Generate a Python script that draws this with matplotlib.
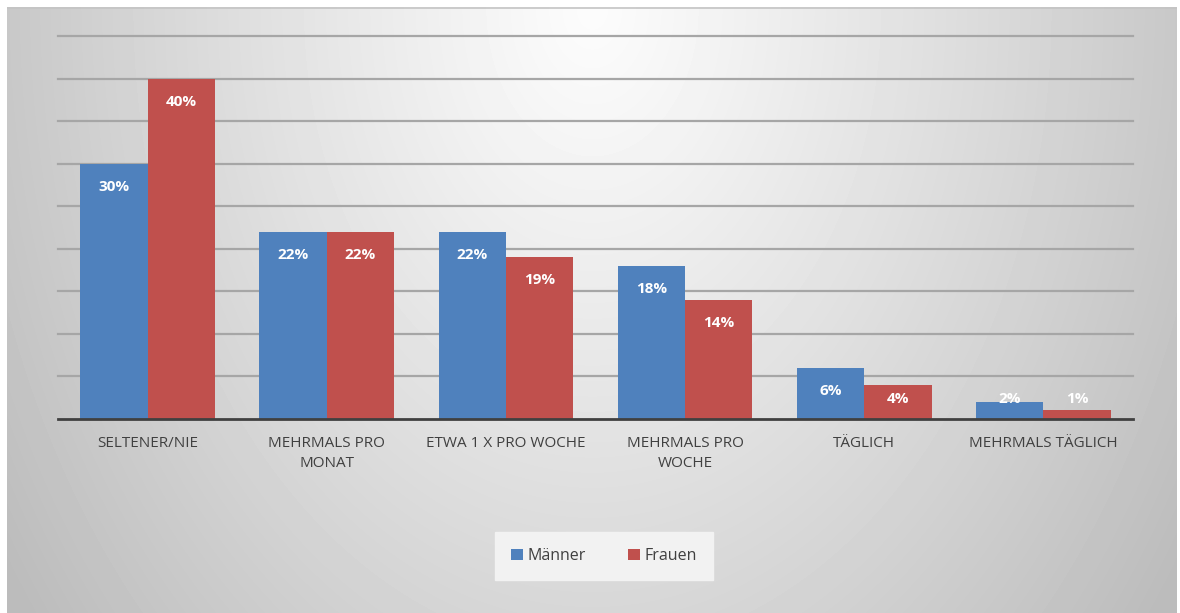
import numpy as np
import matplotlib
matplotlib.use("Agg")
import matplotlib.pyplot as plt

categories = ["SELTENER/NIE", "MEHRMALS PRO\nMONAT", "ETWA 1 X PRO WOCHE",
              "MEHRMALS PRO\nWOCHE", "TÄGLICH", "MEHRMALS TÄGLICH"]
maenner = [30, 22, 22, 18, 6, 2]
frauen = [40, 22, 19, 14, 4, 1]
series_names = ["Männer", "Frauen"]

blue = "#4f81bd"
red = "#c0504d"

plt.rcParams["font.family"] = ["Open Sans", "DejaVu Sans"]

fig = plt.figure(figsize=(11.8, 6.13), dpi=100)
fig.patch.set_facecolor("white")

# background with radial gradient (chart area frame)
bg = fig.add_axes([7 / 1180, 0, 1170 / 1180, 606 / 613])
bg.set_axis_off()
yy, xx = np.mgrid[0:606, 0:1170]
r = np.sqrt(((xx - 585) / 585.0) ** 2 + (yy / 820.0) ** 2)
shade = np.clip(252 - 52 * r ** 1.1, 188, 255) / 255.0
bg.imshow(shade, cmap="gray", vmin=0, vmax=1, aspect="auto",
          extent=[0, 1, 0, 1], origin="upper")
bg.set_xlim(0, 1)
bg.set_ylim(0, 1)
bg.plot([0, 1], [0.999, 0.999], color="#c4c4c4", lw=1.2)

ax = fig.add_axes([58 / 1180, 1 - 419 / 613, 1075 / 1180, 383 / 613])
ax.set_facecolor("none")

x = np.arange(len(categories))
w = 0.376
b1 = ax.bar(x - w / 2, maenner, w, color=blue, label=series_names[0], zorder=3)
b2 = ax.bar(x + w / 2, frauen, w, color=red, label=series_names[1], zorder=3)

for bars, vals in [(b1, maenner), (b2, frauen)]:
    for bar, v in zip(bars, vals):
        ypos = max(v - 2.7, 2.4)
        ax.text(bar.get_x() + bar.get_width() / 2, ypos, f"{v}%",
                ha="center", va="center", color="white", fontsize=11,
                fontweight="bold", zorder=4)

ax.set_xlim(-0.5, len(categories) - 0.5)
ax.set_ylim(0, 45)
ax.set_yticks(np.arange(5, 46, 5))
ax.yaxis.grid(True, color="#a6a6a6", lw=1.6, zorder=0)
for gl in ax.get_ygridlines():
    gl.set_clip_on(False)
ax.tick_params(axis="y", left=False, labelleft=False)
ax.tick_params(axis="x", length=0, pad=12, labelsize=11, labelcolor="#404040")
ax.set_xticks(x)
ax.set_xticklabels(categories, linespacing=1.5)
for s in ["top", "right", "left"]:
    ax.spines[s].set_visible(False)
ax.spines["bottom"].set_color("#404040")
ax.spines["bottom"].set_linewidth(2)
ax.spines["bottom"].set_zorder(5)

leg = fig.legend(loc="center", bbox_to_anchor=(604 / 1180, 1 - 556 / 613),
                 ncol=2, frameon=True, fontsize=11.5, handlelength=0.75,
                 handleheight=0.75, handletextpad=0.3, columnspacing=2.6,
                 borderpad=1.0, borderaxespad=0, fancybox=False,
                 labelcolor="#404040")
leg.get_frame().set_facecolor("#f2f2f2")
leg.get_frame().set_edgecolor("#f2f2f2")
leg.get_frame().set_alpha(1)
leg._legend_box.align = "center"

fig.savefig("out.png", dpi=100)
